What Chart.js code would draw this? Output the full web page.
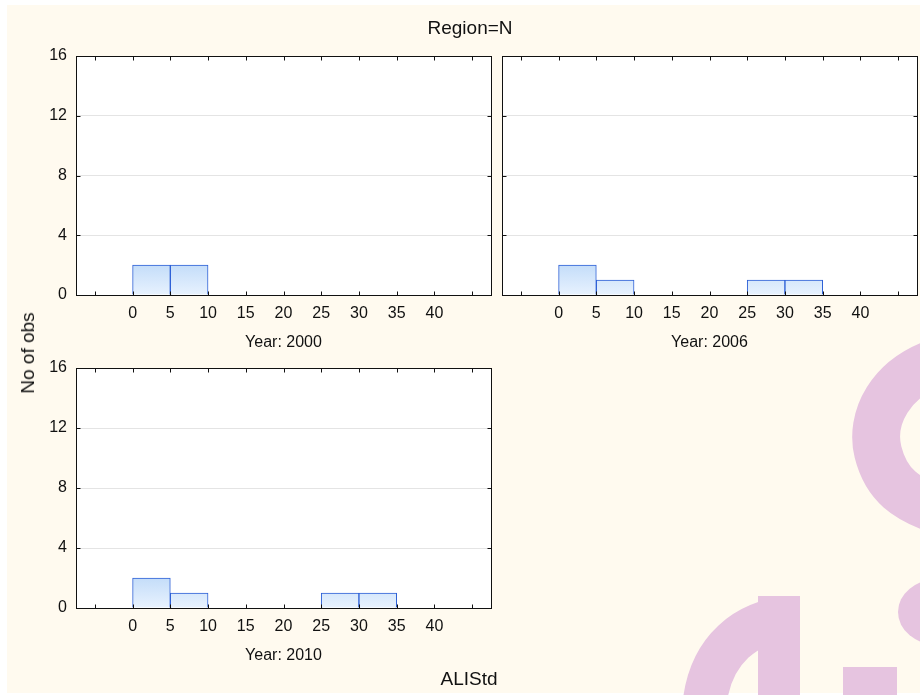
<!DOCTYPE html>
<html>
<head>
<meta charset="utf-8">
<script src="https://cdn.jsdelivr.net/npm/chart.js@4"></script>
<style>
html, body { margin: 0; padding: 0; background: #fff; }
body { width: 920px; height: 695px; position: relative; overflow: hidden; font-family: "Liberation Sans", Arial, sans-serif; }
canvas { position: absolute; }
.lbl { position: absolute; font-size: 19px; color: #111; white-space: nowrap; transform: translate(-50%, -50%); }
</style>
</head>
<body>
<canvas id="fondo" width="920" height="695" style="left:0;top:0"></canvas>
<canvas id="panel2000" width="500" height="330" style="left:0;top:30px"></canvas>
<canvas id="panel2006" width="490" height="330" style="left:430px;top:30px"></canvas>
<canvas id="panel2010" width="500" height="331" style="left:0;top:342px"></canvas>
<div class="lbl" style="left:470px;top:28px">Region=N</div>
<div class="lbl" style="left:28px;top:353px;transform:translate(-50%,-50%) rotate(-90deg)">No of obs</div>
<div class="lbl" style="left:469px;top:679px">ALIStd</div>
<script>
// Datos: histogramas de ALIStd por año (clases de 5)
const clases = [2.5, 7.5, 12.5, 17.5, 22.5, 27.5, 32.5, 37.5];
const obs2000 = [2, 2, 0, 0, 0, 0, 0, 0];
const obs2006 = [2, 1, 0, 0, 0, 1, 1, 0];
const obs2010 = [2, 1, 0, 0, 0, 1, 1, 0];
const xTicks = [-5, 0, 5, 10, 15, 20, 25, 30, 35, 40, 45];
const xEtiquetas = ['0', '5', '10', '15', '20', '25', '30', '35', '40'];
const yTicks = [0, 4, 8, 12, 16];
const yEtiquetas = ['0', '4', '8', '12', '16'];

Chart.defaults.font.family = '"Liberation Sans", Arial, sans-serif';
Chart.defaults.color = '#111';

// Fondo crema y marca de agua
const f = document.getElementById('fondo').getContext('2d');
f.fillStyle = '#fffaef';
f.fillRect(7, 5, 913, 688);
f.fillStyle = f.strokeStyle = '#e6c4e0';
f.lineWidth = 48;
f.beginPath();
f.moveTo(945, 360);
f.bezierCurveTo(888, 376, 870, 420, 878, 452);
f.bezierCurveTo(886, 484, 905, 500, 945, 512);
f.stroke();
f.lineWidth = 44;
f.beginPath();
f.moveTo(705, 700);
f.bezierCurveTo(712, 650, 745, 622, 790, 618);
f.stroke();
f.fillRect(758, 596, 42, 99);
f.fillRect(843, 667, 54, 28);
f.beginPath();
f.ellipse(938, 612, 40, 33, 0, 0, Math.PI * 2);
f.fill();

// Marco del área, fondo blanco y marcas hacia dentro
const marco = {
    id: 'marco',
    beforeDraw(chart) {
        const a = chart.chartArea;
        chart.ctx.save();
        chart.ctx.fillStyle = '#fff';
        chart.ctx.fillRect(a.left, a.top, a.width, a.height);
        chart.ctx.restore();
    },
    afterDraw(chart) {
        const c = chart.ctx;
        const a = chart.chartArea;
        const x = chart.scales.x;
        const y = chart.scales.y;
        const l = Math.round(a.left) + 0.5, r = Math.round(a.right) + 0.5;
        const t = Math.round(a.top) + 0.5, b = Math.round(a.bottom) + 0.5;
        c.save();
        c.strokeStyle = '#111';
        c.lineWidth = 1;
        c.beginPath();
        xTicks.forEach(v => {
            const px = Math.round(x.getPixelForValue(v)) + 0.5;
            c.moveTo(px, b); c.lineTo(px, b - 4);
            c.moveTo(px, t); c.lineTo(px, t + 4);
        });
        yTicks.forEach(v => {
            const py = Math.round(y.getPixelForValue(v)) + 0.5;
            c.moveTo(l, py); c.lineTo(l + 4, py);
            c.moveTo(r, py); c.lineTo(r - 4, py);
        });
        c.stroke();
        c.strokeRect(l, t, r - l, b - t);
        c.restore();
    }
};

function relleno(ctx) {
    const chart = ctx.chart;
    const a = chart.chartArea;
    if (!a) return '#d6e8fc';
    const y = chart.scales.y;
    const g = chart.ctx.createLinearGradient(0, y.getPixelForValue(2), 0, y.getPixelForValue(0));
    g.addColorStop(0, '#c4ddf9');
    g.addColorStop(1, '#e8f2fe');
    return g;
}

function crearPanel(id, obs, titulo, conY, anchoY, margenDer) {
    return new Chart(document.getElementById(id), {
        type: 'bar',
        data: {
            datasets: [{
                data: clases.map((c, i) => ({ x: c, y: obs[i] || null })),
                backgroundColor: relleno,
                borderColor: '#2c5fd6',
                borderWidth: 1,
                barPercentage: 1,
                categoryPercentage: 1
            }]
        },
        options: {
            responsive: false,
            animation: false,
            layout: { padding: { left: 0, top: 26, right: margenDer, bottom: 0 } },
            plugins: { legend: { display: false }, tooltip: { enabled: false } },
            scales: {
                x: {
                    type: 'linear',
                    offset: false,
                    min: -7.5,
                    max: 47.5,
                    afterBuildTicks: s => { s.ticks = xTicks.map(v => ({ value: v })); },
                    afterFit: s => { s.height = 65; },
                    grid: { display: false, drawTicks: false, offset: false },
                    border: { display: false },
                    ticks: {
                        autoSkip: false,
                        maxRotation: 0,
                        padding: 9,
                        font: { size: 16 },
                        callback: v => xEtiquetas.includes(String(v)) ? String(v) : ''
                    },
                    title: { display: true, text: titulo, font: { size: 16 }, padding: { top: 0, bottom: 8 } }
                },
                y: {
                    min: 0,
                    max: 16,
                    afterBuildTicks: s => { s.ticks = yTicks.map(v => ({ value: v })); },
                    afterFit: s => { s.width = anchoY; },
                    grid: {
                        drawTicks: false,
                        color: c => (c.tick && c.tick.value > 0 && c.tick.value < 16) ? '#e4e4e4' : 'rgba(0,0,0,0)'
                    },
                    border: { display: false },
                    ticks: {
                        display: conY,
                        padding: 9,
                        font: { size: 16 },
                        callback: v => yEtiquetas[yTicks.indexOf(v)]
                    }
                }
            }
        },
        plugins: [marco]
    });
}

crearPanel('panel2000', obs2000, 'Year: 2000', true, 76, 9);
crearPanel('panel2006', obs2006, 'Year: 2006', false, 72, 3);
crearPanel('panel2010', obs2010, 'Year: 2010', true, 76, 9);
</script>
</body>
</html>
